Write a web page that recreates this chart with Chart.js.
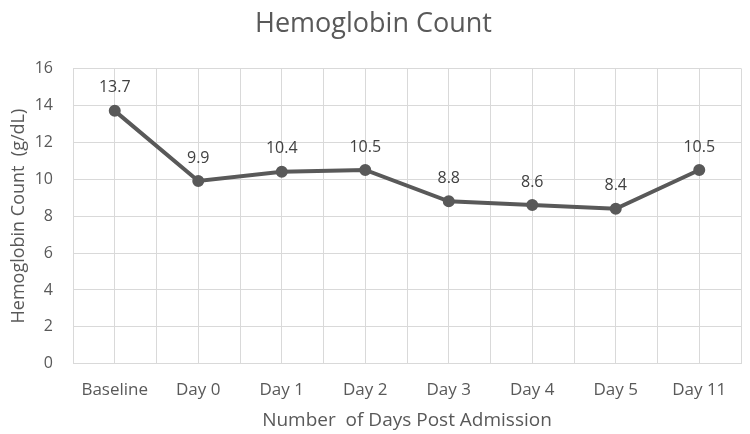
<!DOCTYPE html>
<html>
<head>
<meta charset="utf-8">
<script src="https://cdn.jsdelivr.net/npm/chart.js@4.4.1/dist/chart.umd.min.js"></script>
<style>
  html, body { margin: 0; padding: 0; background: #fff; }
  #wrap { width: 750px; height: 434px; }
</style>
</head>
<body>
<div id="wrap"><canvas id="hgb" width="750" height="434"></canvas></div>
<script>
var days = ['Baseline', 'Day 0', 'Day 1', 'Day 2', 'Day 3', 'Day 4', 'Day 5', 'Day 11'];
var hemoglobin = [13.7, 9.9, 10.4, 10.5, 8.8, 8.6, 8.4, 10.5];
var yTicks = [0, 2, 4, 6, 8, 10, 12, 14, 16];

var textColor = '#595959';
var gridColor = '#d9d9d9';
var fontName = "'Open Sans', sans-serif";

// value labels above each point
var pointLabels = {
  id: 'pointLabels',
  afterDatasetsDraw: function(chart) {
    var ctx = chart.ctx;
    var meta = chart.getDatasetMeta(0);
    ctx.save();
    ctx.font = '16px ' + fontName;
    ctx.fillStyle = '#404040';
    ctx.textAlign = 'center';
    ctx.textBaseline = 'bottom';
    meta.data.forEach(function(pt, i) {
      ctx.fillText(hemoglobin[i].toFixed(1), pt.x, pt.y - 15);
    });
    ctx.restore();
  }
};

var ctx = document.getElementById('hgb');
var chart = new Chart(ctx, {
  type: 'line',
  data: {
    labels: days,
    datasets: [{
      label: 'Hemoglobin Count',
      data: hemoglobin,
      borderColor: '#595959',
      backgroundColor: '#595959',
      borderWidth: 4,
      pointRadius: 4,
      pointBackgroundColor: '#595959',
      pointBorderColor: '#595959',
      tension: 0,
      xAxisID: 'x'
    }]
  },
  options: {
    responsive: false,
    animation: false,
    layout: { padding: { top: 8, right: 9, left: 6, bottom: 2 } },
    plugins: {
      legend: { display: false },
      tooltip: { enabled: false },
      title: {
        display: true,
        text: 'Hemoglobin Count',
        color: textColor,
        font: { family: fontName, size: 27, weight: 'normal' },
        padding: { top: 0, bottom: 28 }
      }
    },
    scales: {
      x: {
        type: 'category',
        offset: true,
        grid: { display: false },
        border: { display: false },
        ticks: {
          color: textColor,
          font: { family: fontName, size: 17 },
          padding: 8
        },
        title: {
          display: true,
          text: 'Number  of Days Post Admission',
          color: textColor,
          font: { family: fontName, size: 19 },
          padding: { top: 1, bottom: 0 }
        }
      },
      xg: {
        type: 'linear',
        position: 'bottom',
        min: 0,
        max: days.length * 2,
        ticks: { display: false, stepSize: 1 },
        grid: { color: gridColor, drawTicks: false, lineWidth: 1 },
        border: { display: false }
      },
      y: {
        min: 0,
        max: 16,
        afterBuildTicks: function(axis) {
          axis.ticks = yTicks.map(function(v) { return { value: v }; });
        },
        afterFit: function(axis) { axis.width = 67; },
        grid: { color: gridColor, drawTicks: false },
        border: { display: false },
        ticks: {
          color: textColor,
          font: { family: fontName, size: 16 },
          padding: 20
        },
        title: {
          display: true,
          text: 'Hemoglobin Count  (g/dL)',
          color: textColor,
          font: { family: fontName, size: 18 },
          padding: { top: 2, bottom: 0 }
        }
      }
    }
  },
  plugins: [pointLabels]
});
</script>
</body>
</html>
